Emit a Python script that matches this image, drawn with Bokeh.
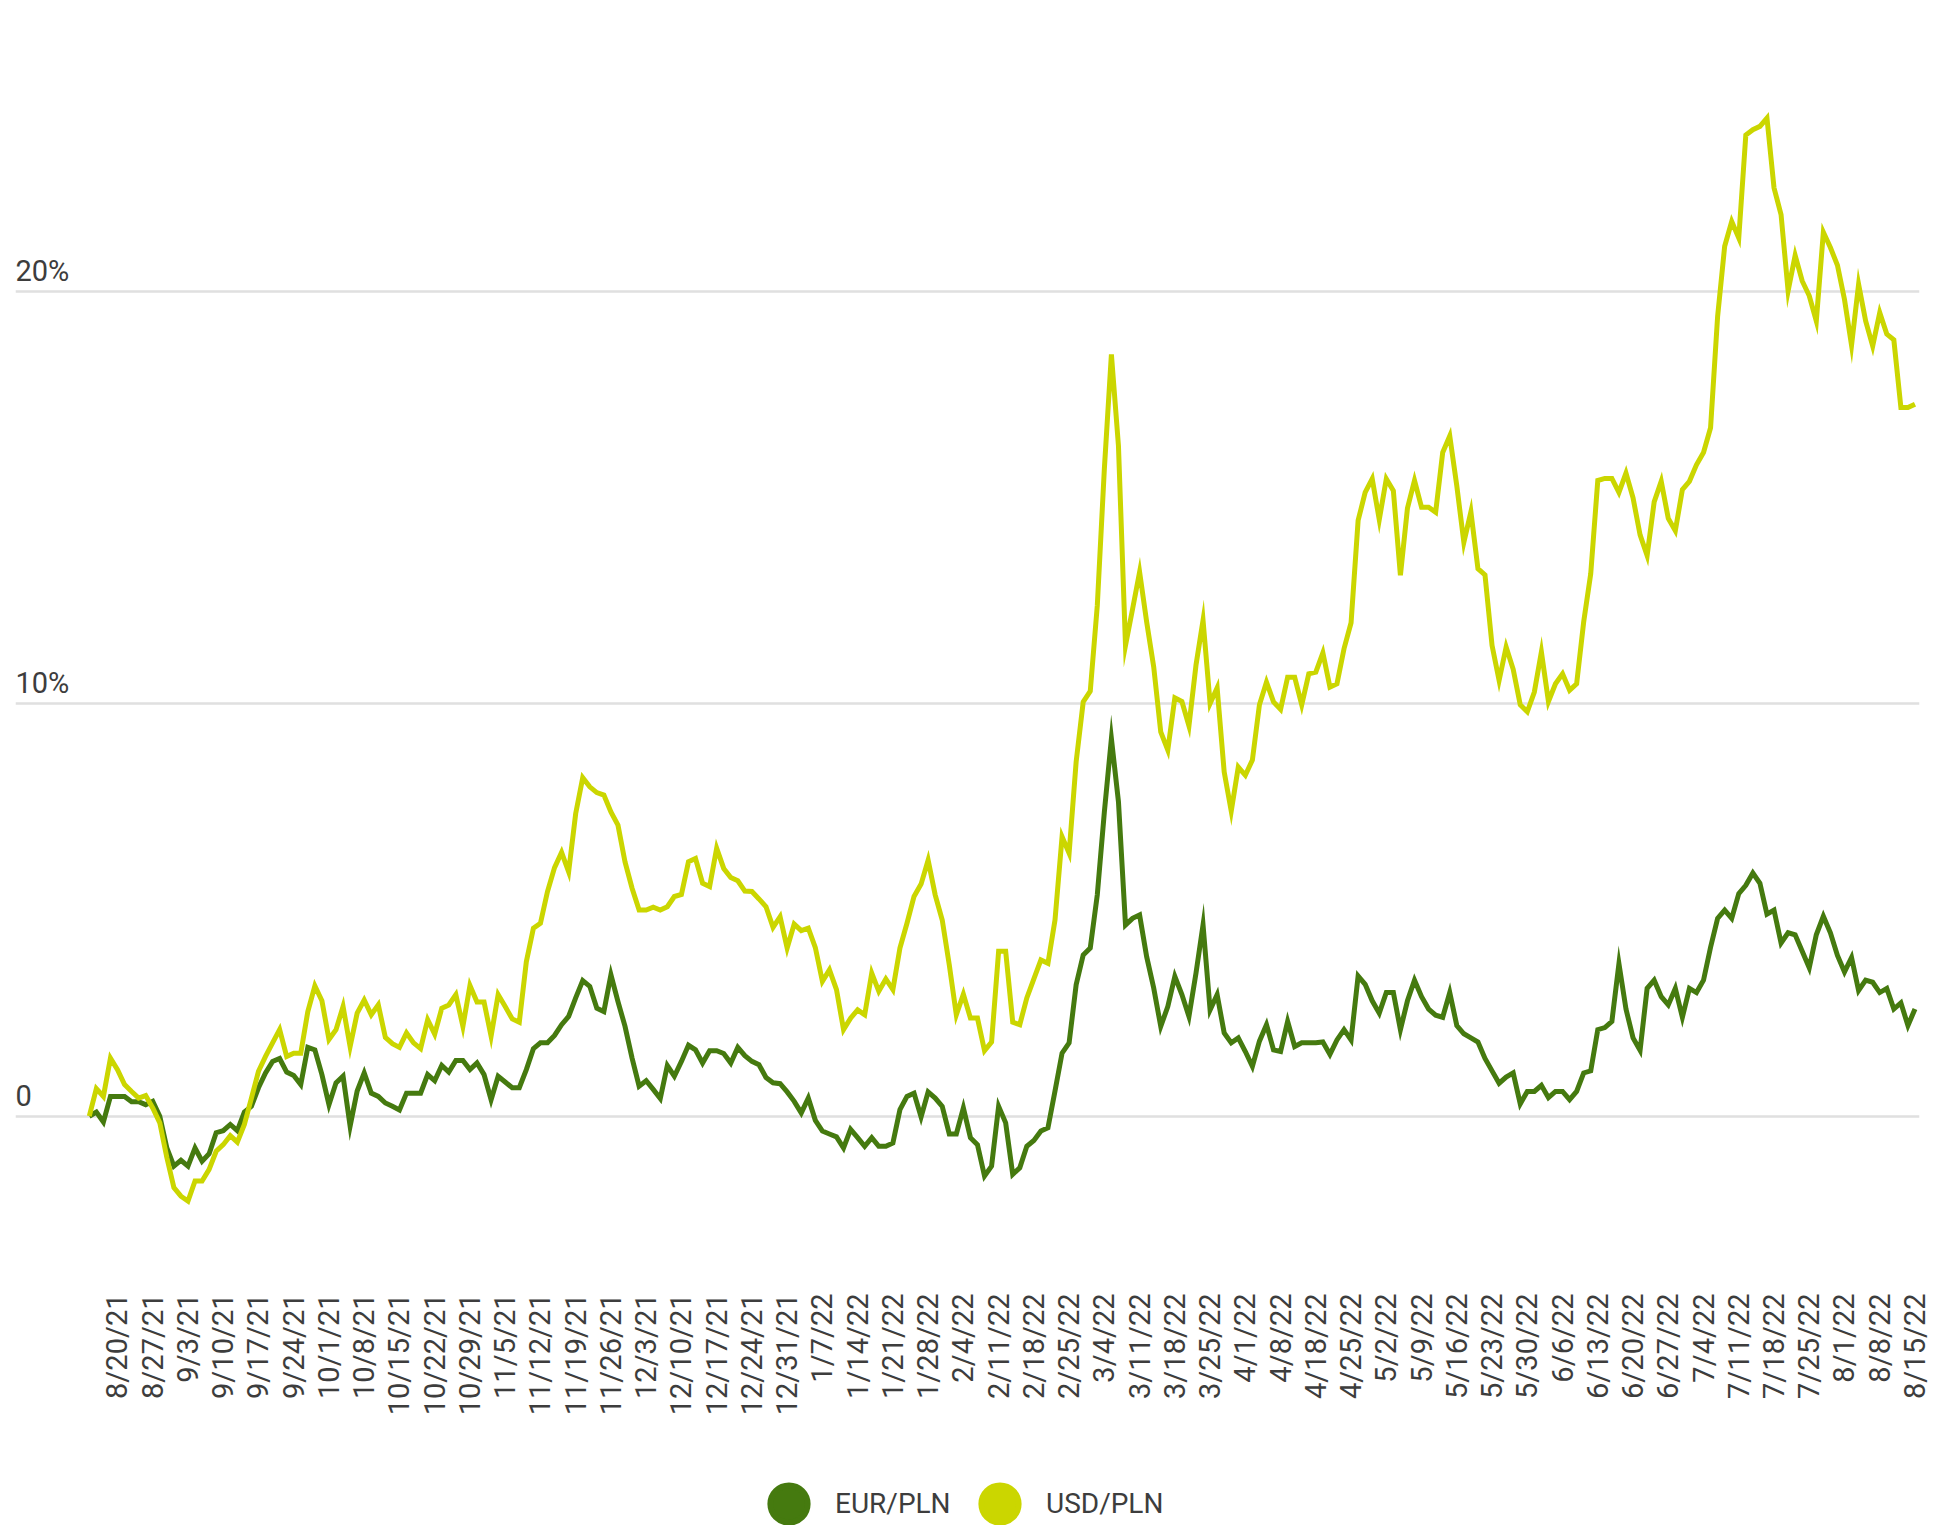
import math
from bokeh.plotting import figure
from bokeh.layouts import column
from bokeh.models import Range1d, FixedTicker, Legend, LegendItem
from bokeh.core.properties import value
from bokeh.embed import file_html
from bokeh.resources import INLINE

# ---------------- data (percent change since 8/16/21, one value per trading day) ----------------
eur_pln = [
    0.0, 0.1, -0.14, 0.48, 0.48, 0.48, 0.35, 0.35, 0.28, 0.36,
    0.0, -0.77, -1.21, -1.07, -1.21, -0.77, -1.09, -0.91, -0.4, -0.35,
    -0.2, -0.35, 0.1, 0.24, 0.69, 1.05, 1.33, 1.4, 1.07, 0.99,
    0.77, 1.67, 1.61, 1.01, 0.28, 0.81, 0.97, -0.24, 0.61, 1.05,
    0.56, 0.48, 0.32, 0.24, 0.15,
    0.56, 0.56, 0.56, 1.01, 0.86, 1.23, 1.07, 1.35, 1.35, 1.13,
    1.29, 1.01, 0.4, 0.97, 0.83, 0.69, 0.69, 1.13, 1.64, 1.78,
    1.78, 1.96, 2.22, 2.42, 2.87, 3.29, 3.15, 2.62, 2.54, 3.43,
    2.78, 2.18, 1.41, 0.73, 0.86, 0.65, 0.43, 1.23, 0.97, 1.33,
    1.72, 1.61,
    1.29, 1.59, 1.59, 1.52, 1.29, 1.67, 1.47, 1.33, 1.25, 0.94,
    0.81, 0.79, 0.59, 0.36, 0.08, 0.44, -0.1, -0.36, -0.43, -0.5,
    -0.77, -0.32, -0.52, -0.73, -0.52, -0.73, -0.73, -0.65, 0.16, 0.48,
    0.56, -0.02, 0.59, 0.44, 0.24, -0.43, -0.43, 0.2, -0.52, -0.69,
    -1.45, -1.21, 0.24,
    -0.16, -1.41, -1.25, -0.73, -0.59, -0.36, -0.28, 0.61, 1.53, 1.78,
    3.19, 3.91, 4.08, 5.37, 7.38, 9.16, 7.63, 4.64, 4.8, 4.88,
    3.87, 3.11, 2.18, 2.66, 3.39, 2.95, 2.42, 3.47, 4.64, 2.58,
    2.95, 2.02, 1.78, 1.9, 1.57, 1.21, 1.82, 2.22, 1.61, 1.57,
    2.3, 1.69, 1.78, 1.78,
    1.78,
    1.8, 1.5, 1.85, 2.1, 1.85, 3.4, 3.2, 2.8, 2.5, 3.0,
    3.0, 2.1, 2.8, 3.3, 2.9, 2.6, 2.45, 2.4, 3.0, 2.2,
    2.0, 1.9, 1.8, 1.4, 1.1, 0.8, 0.95, 1.05, 0.3, 0.6,
    0.6, 0.75, 0.45, 0.6, 0.6, 0.4, 0.6, 1.05, 1.1, 2.1,
    2.15, 2.3, 3.7, 2.6, 1.9, 1.6, 3.1, 3.3, 2.9, 2.7,
    3.1, 2.4, 3.1, 3.0, 3.3, 4.1, 4.8, 5.0, 4.8, 5.4,
    5.6, 5.9, 5.65, 4.9, 5.0, 4.2, 4.45, 4.4, 4.0, 3.6,
    4.4, 4.85, 4.45, 3.9, 3.5, 3.85, 3.05, 3.3, 3.25, 3.0,
    3.1, 2.6, 2.75, 2.2, 2.6,
]

usd_pln = [
    0.0, 0.67, 0.48, 1.41, 1.13, 0.77, 0.6, 0.44, 0.5, 0.2,
    -0.16, -1.0, -1.73, -1.94, -2.06, -1.57, -1.57, -1.29, -0.85, -0.69,
    -0.47, -0.63, -0.2, 0.44, 1.09, 1.45, 1.78, 2.1, 1.45, 1.53,
    1.53, 2.54, 3.16, 2.8, 1.86, 2.1, 2.66, 1.69, 2.5, 2.82,
    2.46, 2.7, 1.91, 1.76, 1.67,
    2.02, 1.78, 1.64, 2.34, 1.99, 2.62, 2.7, 2.95, 2.18, 3.17,
    2.77, 2.77, 1.94, 2.95, 2.66, 2.36, 2.28, 3.75, 4.56, 4.68,
    5.45, 6.03, 6.4, 5.93, 7.34, 8.21, 7.99, 7.85, 7.79, 7.38,
    7.06, 6.17, 5.53, 5.0, 5.0, 5.07, 5.0, 5.08, 5.33, 5.38,
    6.17, 6.25,
    5.65, 5.57, 6.5, 6.01, 5.79, 5.71, 5.46, 5.45, 5.27, 5.08,
    4.58, 4.84, 4.08, 4.66, 4.5, 4.56, 4.09, 3.27, 3.55, 3.07,
    2.1, 2.38, 2.58, 2.46, 3.47, 3.03, 3.33, 3.07, 4.08, 4.68,
    5.33, 5.63, 6.21, 5.37, 4.76, 3.67, 2.46, 2.96, 2.38, 2.38,
    1.59, 1.8, 4.0,
    4.0, 2.28, 2.22, 2.87, 3.33, 3.79, 3.71, 4.76, 6.78, 6.38,
    8.6,
    10.05, 10.31, 12.39, 15.7, 18.48, 16.26, 11.42, 12.3, 13.2, 11.99,
    10.9, 9.32, 8.88, 10.15, 10.06, 9.47, 10.94, 12.03, 10.01, 10.39,
    8.35, 7.4, 8.47, 8.27, 8.64, 9.98, 10.53, 10.05, 9.87, 10.65,
    10.65, 9.98, 10.73,
    10.77, 11.24, 10.41, 10.49, 11.34, 11.97, 14.45, 15.13, 15.46, 14.47,
    15.46, 15.17, 13.12, 14.75, 15.42, 14.77, 14.77, 14.65, 16.1, 16.5,
    15.29, 13.92, 14.66, 13.28, 13.13, 11.42, 10.57, 11.38, 10.84, 9.98,
    9.81, 10.29, 11.26, 10.06, 10.49, 10.73, 10.33, 10.49, 11.99, 13.16,
    15.42, 15.47, 15.47, 15.13,
    15.6, 15.0, 14.1, 13.6, 14.9, 15.4, 14.5, 14.2, 15.2, 15.4,
    15.8, 16.1, 16.7, 19.4, 21.1, 21.7, 21.3, 23.8,
    23.93, 24.01, 24.21, 22.52, 21.87, 20.02, 20.88, 20.26, 19.9, 19.29,
    21.44, 21.07, 20.64, 19.81, 18.7, 20.18, 19.29, 18.68, 19.49, 18.97,
    18.83, 17.19, 17.19, 17.27,
]

x_tick_labels = [
    "8/20/21", "8/27/21", "9/3/21", "9/10/21", "9/17/21", "9/24/21", "10/1/21", "10/8/21",
    "10/15/21", "10/22/21", "10/29/21", "11/5/21", "11/12/21", "11/19/21", "11/26/21",
    "12/3/21", "12/10/21", "12/17/21", "12/24/21", "12/31/21", "1/7/22", "1/14/22",
    "1/21/22", "1/28/22", "2/4/22", "2/11/22", "2/18/22", "2/25/22", "3/4/22", "3/11/22",
    "3/18/22", "3/25/22", "4/1/22", "4/8/22", "4/18/22", "4/25/22", "5/2/22", "5/9/22",
    "5/16/22", "5/23/22", "5/30/22", "6/6/22", "6/13/22", "6/20/22", "6/27/22", "7/4/22",
    "7/11/22", "7/18/22", "7/25/22", "8/1/22", "8/8/22", "8/15/22",
]
first_label_day = 4      # 8/20/21 is the 5th trading day of the series
label_every = 5          # one label per trading week

y_ticks = [0, 10, 20]
y_tick_labels = ["0", "10%", "20%"]

series_names = ["EUR/PLN", "USD/PLN"]
series_colors = ["#457a0f", "#cbd600"]

TEXT_COLOR = "#3d3d3d"
FONT = "Roboto"

# ---------------- main chart ----------------
n = len(eur_pln)
days = list(range(n))

p = figure(
    width=1933, height=1445,
    output_backend="svg", toolbar_location=None,
    x_range=Range1d(-10.47, 259.64), y_range=Range1d(-4.106, 26.82),
    min_border_left=15, min_border_right=14, min_border_top=10, min_border_bottom=160,
)
p.outline_line_color = None
p.background_fill_color = "white"
p.border_fill_color = "white"

tick_pos = [first_label_day + label_every * k for k in range(len(x_tick_labels))]
p.xaxis.ticker = FixedTicker(ticks=tick_pos)
p.xaxis.major_label_overrides = {t: lab for t, lab in zip(tick_pos, x_tick_labels)}
p.xaxis.major_label_orientation = math.pi / 2
p.xaxis.major_label_text_font = FONT
p.xaxis.major_label_text_font_size = "29px"
p.xaxis.major_label_text_color = TEXT_COLOR
p.xaxis.major_label_standoff = 2
p.xaxis.axis_line_color = None
p.xaxis.major_tick_line_color = None
p.xaxis.minor_tick_line_color = None
p.xgrid.visible = False

p.yaxis.ticker = FixedTicker(ticks=y_ticks)
p.yaxis.visible = False
p.ygrid.grid_line_color = "#e0e0e0"
p.ygrid.grid_line_width = 2.5

p.text(
    x=[p.x_range.start] * len(y_ticks), y=y_ticks, text=y_tick_labels,
    text_font=value(FONT), text_font_size="29px", text_color=TEXT_COLOR,
    text_align="left", text_baseline="alphabetic", y_offset=-21,
)

p.line(days, eur_pln, line_color=series_colors[0], line_width=5, line_join="miter")
p.line(days, usd_pln, line_color=series_colors[1], line_width=5, line_join="miter")

# ---------------- legend strip ----------------
leg = figure(
    width=1933, height=80, output_backend="svg", toolbar_location=None,
    x_range=Range1d(0, 1), y_range=Range1d(0, 1),
    x_axis_location=None, y_axis_location=None, min_border=0,
)
leg.outline_line_color = None
leg.background_fill_color = "white"
leg.border_fill_color = "white"
leg.grid.visible = False

legend_x = [727, 938]    # one legend box per series, left edges in screen px
for name, col, lx in zip(series_names, series_colors, legend_x):
    # legend swatch proxy: a single undefined (NaN) point, so nothing is drawn in the strip itself
    r = leg.scatter(x=[float("nan")], y=[float("nan")], marker="circle",
                    fill_color=col, line_color=col, line_width=6)
    lg = Legend(
        items=[LegendItem(label=name, renderers=[r])], orientation="horizontal",
        location=(lx, -25), glyph_width=93, glyph_height=93, label_standoff=0,
        padding=0, margin=0, border_line_color=None, background_fill_alpha=0,
        label_text_font=FONT, label_text_font_size="28px", label_text_color=TEXT_COLOR,
    )
    leg.add_layout(lg, "center")

layout = column(p, leg, spacing=0)
open("out.html", "w").write(file_html(layout, INLINE))
